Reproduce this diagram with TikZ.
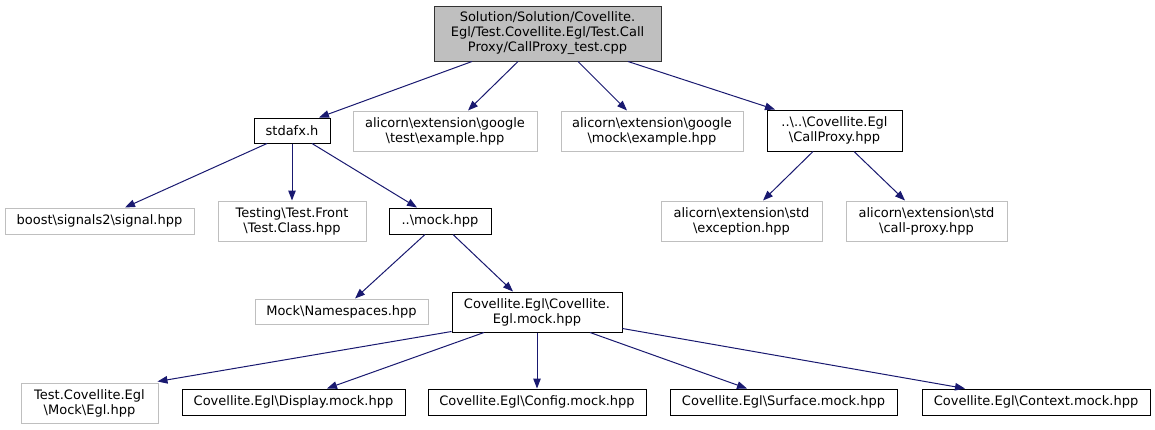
\documentclass[tikz,border=0pt]{standalone}
\usepackage{fontspec}
\setmainfont{DejaVu Sans}
\usetikzlibrary{arrows.meta}
\definecolor{edgeblue}{HTML}{191970}
\definecolor{lightborder}{HTML}{BFBFBF}
\definecolor{rootfill}{HTML}{BFBFBF}
\tikzset{
  box/.style={draw=black, line width=1pt, inner sep=0pt, align=center,
    font=\fontsize{13}{15}\selectfont, text=black},
  extbox/.style={box, draw=lightborder},
  rootbox/.style={box, fill=rootfill, draw=black!80},
  edge/.style={draw=edgeblue, line width=1pt, -{Triangle[length=10pt,width=7.5pt]}},
}
\begin{document}
\begin{tikzpicture}[x=1pt,y=-1pt]
\useasboundingbox (0,0) rectangle (1155,429);
% row 0
\node[rootbox, minimum width=227pt, minimum height=55pt] (root) at (547.5,33.5)
  {Solution/Solution/Covellite.\\Egl/Test.Covellite.Egl/Test.Call\\Proxy/CallProxy\_test.cpp};
% row 1
\node[box, minimum width=76pt, minimum height=25pt] (stdafx) at (292,130.5) {stdafx.h};
\node[extbox, minimum width=184pt, minimum height=40pt] (gtest) at (445,131)
  {alicorn\textbackslash extension\textbackslash google\\\textbackslash test\textbackslash example.hpp};
\node[extbox, minimum width=182pt, minimum height=40pt] (gmock) at (652,131)
  {alicorn\textbackslash extension\textbackslash google\\\textbackslash mock\textbackslash example.hpp};
\node[box, minimum width=135pt, minimum height=41pt] (callproxy) at (834.5,130.5)
  {..\textbackslash ..\textbackslash Covellite.Egl\\\textbackslash CallProxy.hpp};
% row 2
\node[extbox, minimum width=189pt, minimum height=26pt] (boost) at (99.5,221)
  {boost\textbackslash signals2\textbackslash signal.hpp};
\node[extbox, minimum width=148pt, minimum height=40pt] (testing) at (292,221)
  {Testing\textbackslash Test.Front\\\textbackslash Test.Class.hpp};
\node[box, minimum width=102pt, minimum height=26pt] (mock) at (440,221)
  {..\textbackslash mock.hpp};
\node[extbox, minimum width=161pt, minimum height=40pt] (exception) at (741.5,221)
  {alicorn\textbackslash extension\textbackslash std\\\textbackslash exception.hpp};
\node[extbox, minimum width=161pt, minimum height=40pt] (cproxy) at (926.5,221)
  {alicorn\textbackslash extension\textbackslash std\\\textbackslash call-proxy.hpp};
% row 3
\node[extbox, minimum width=173pt, minimum height=25pt] (ns) at (341.5,311.5)
  {Mock\textbackslash Namespaces.hpp};
\node[box, minimum width=170pt, minimum height=40pt] (covmock) at (537,312)
  {Covellite.Egl\textbackslash Covellite.\\Egl.mock.hpp};
% row 4
\node[extbox, minimum width=137pt, minimum height=40pt] (testegl) at (89.5,403)
  {Test.Covellite.Egl\\\textbackslash Mock\textbackslash Egl.hpp};
\node[box, minimum width=223pt, minimum height=26pt] (display) at (293.5,402)
  {Covellite.Egl\textbackslash Display.mock.hpp};
\node[box, minimum width=218pt, minimum height=26pt] (config) at (537,402)
  {Covellite.Egl\textbackslash Config.mock.hpp};
\node[box, minimum width=227pt, minimum height=26pt] (surface) at (783.5,402)
  {Covellite.Egl\textbackslash Surface.mock.hpp};
\node[box, minimum width=228pt, minimum height=26pt] (context) at (1036,402)
  {Covellite.Egl\textbackslash Context.mock.hpp};
% edges
\draw[edge] ([xshift=-75.5pt]root.south) -- ([xshift=27pt]stdafx.north);
\draw[edge] ([xshift=-29.5pt]root.south) -- ([xshift=23pt]gtest.north);
\draw[edge] ([xshift=30.5pt]root.south) -- ([xshift=-25pt]gmock.north);
\draw[edge] ([xshift=80.5pt]root.south) -- ([xshift=-59.5pt]callproxy.north);
\draw[edge] ([xshift=-25pt]stdafx.south) -- ([xshift=25.5pt]boost.north);
\draw[edge] (stdafx.south) -- (testing.north);
\draw[edge] ([xshift=20pt]stdafx.south) -- ([xshift=-23pt]mock.north);
\draw[edge] ([xshift=-15pt]mock.south) -- ([xshift=13.5pt]ns.north);
\draw[edge] ([xshift=13pt]mock.south) -- ([xshift=-24pt]covmock.north);
\draw[edge] ([xshift=-21.5pt]callproxy.south) -- ([xshift=21.5pt]exception.north);
\draw[edge] ([xshift=19.5pt]callproxy.south) -- ([xshift=-21.5pt]cproxy.north);
\draw[edge] ([yshift=1pt]covmock.south west) -- ([xshift=-1pt,yshift=1pt]testegl.north east);
\draw[edge] ([xshift=-53pt]covmock.south) -- ([xshift=33.5pt]display.north);
\draw[edge] (covmock.south) -- (config.north);
\draw[edge] ([xshift=53pt]covmock.south) -- ([xshift=-36.5pt]surface.north);
\draw[edge] ([yshift=4pt]covmock.south east) -- ([xshift=-71pt]context.north);
\end{tikzpicture}
\end{document}
